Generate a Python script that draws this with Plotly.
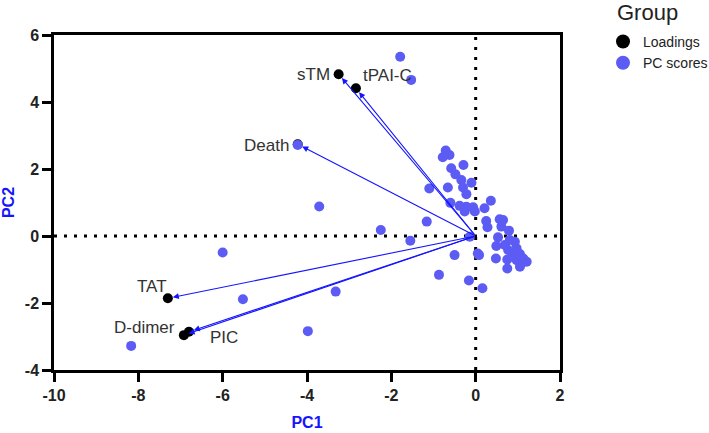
import plotly.graph_objects as go

# Loadings
load_names = ["sTM", "tPAI-C", "Death", "TAT", "D-dimer", "PIC"]
load_x = [-3.25, -2.84, -4.22, -7.30, -6.92, -6.80]
load_y = [4.83, 4.41, 2.74, -1.86, -2.96, -2.86]

# PC scores
score_x = [-1.79, -1.53, -3.71, -6.00, -5.52, -3.32, -3.98, -8.17, -2.25, -1.55, -4.22,
           -0.71, -0.62, -0.78, -0.29, -0.58, -0.48, -0.34, -0.10, -1.10, -0.66, -0.30,
           -0.22, 0.36, -0.60, -0.38, -0.22, -0.06, -0.26, -0.02, 0.21, -1.16, 0.25,
           0.57, 0.65, 0.28, 0.61, 0.79, -0.14, 0.53, 0.81, 0.93, 0.49, 0.69, 0.97,
           0.77, 0.89, 1.05, 1.13, 0.97, 1.09, 0.75, 0.48, 0.08, -0.50, 0.75, 1.05,
           -0.87, -0.16, 0.16, 1.21, 0.05]
score_y = [5.35, 4.66, 0.88, -0.49, -1.89, -1.66, -2.84, -3.28, 0.18, -0.14, 2.72,
           2.55, 2.42, 2.35, 2.12, 2.02, 1.84, 1.67, 1.59, 1.42, 1.45, 1.45,
           1.25, 1.05, 0.99, 0.90, 0.87, 0.86, 0.73, 0.73, 0.83, 0.43, 0.45,
           0.50, 0.48, 0.26, 0.28, 0.16, -0.02, -0.04, -0.12, -0.17, -0.30, -0.27, -0.37,
           -0.42, -0.52, -0.54, -0.67, -0.72, -0.81, -0.70, -0.67, -0.57, -0.57, -0.97, -0.92,
           -1.16, -1.33, -1.56, -0.77, -0.52]

x_ticks = [-10, -8, -6, -4, -2, 0, 2]
y_ticks = [-4, -2, 0, 2, 4, 6]

FONT = "Arial, Liberation Sans, sans-serif"
BLUE_PTS = "#5c5cf5"
ARROW_BLUE = "#1414ff"

fig = go.Figure()
fig.add_trace(go.Scatter(x=load_x, y=load_y, mode="markers", name="Loadings",
                         showlegend=False, marker=dict(color="black", size=10)))
fig.add_trace(go.Scatter(x=score_x, y=score_y, mode="markers", name="PC scores",
                         showlegend=False, marker=dict(color=BLUE_PTS, size=10)))
# legend entries (larger symbols like the reference)
fig.add_trace(go.Scatter(x=[None], y=[None], mode="markers", name="Loadings",
                         marker=dict(color="black", size=14)))
fig.add_trace(go.Scatter(x=[None], y=[None], mode="markers", name="PC scores",
                         marker=dict(color=BLUE_PTS, size=14)))

# zero lines
fig.add_shape(type="line", x0=0, x1=0, y0=-4, y1=6, xref="x", yref="y", layer="below",
              line=dict(color="black", width=3, dash="3px,7px"))
fig.add_shape(type="line", x0=-10, x1=2, y0=0, y1=0, xref="x", yref="y", layer="below",
              line=dict(color="black", width=3, dash="3px,7px"))

# arrows
for x, y in zip(load_x, load_y):
    fig.add_annotation(x=x, y=y, ax=0, ay=0, xref="x", yref="y", axref="x", ayref="y",
                       text="", showarrow=True, arrowhead=2, arrowsize=1.1,
                       arrowwidth=1.1, arrowcolor=ARROW_BLUE, standoff=5)

# labels
label_pos = {
    "sTM": dict(xanchor="right", xshift=-7, yshift=0),
    "tPAI-C": dict(xanchor="left", xshift=5, yshift=13),
    "Death": dict(xanchor="right", xshift=-7, yshift=-1),
    "TAT": dict(xanchor="right", xshift=1, yshift=12),
    "D-dimer": dict(xanchor="right", xshift=-7, yshift=8),
    "PIC": dict(xanchor="left", xshift=19, yshift=-6),
}
for n, x, y in zip(load_names, load_x, load_y):
    p = label_pos[n]
    fig.add_annotation(x=x, y=y, xref="x", yref="y", text=n, showarrow=False,
                       xanchor=p["xanchor"], yanchor="middle", xshift=p["xshift"],
                       yshift=p["yshift"], font=dict(family=FONT, size=17, color="#333333"))

# legend title as text
fig.add_annotation(x=1.109, y=1.066, xref="paper", yref="paper", text="Group",
                   showarrow=False, xanchor="left", yanchor="middle",
                   font=dict(family=FONT, size=22, color="#222222"))

axis_common = dict(showgrid=False, zeroline=False, showline=True, linecolor="black",
                   linewidth=2.5, mirror=True, ticks="outside", ticklen=9, tickwidth=2.5,
                   tickcolor="black", automargin=False,
                   tickfont=dict(family=FONT, size=16, color="#222222", weight="bold"))

fig.update_layout(
    width=709, height=433,
    margin=dict(l=54, r=149, t=35, b=63, autoexpand=False),
    plot_bgcolor="white", paper_bgcolor="white",
    font=dict(family=FONT),
    xaxis=dict(range=[-10, 2], tickvals=x_ticks, ticktext=[str(v) for v in x_ticks],
               title=dict(text="PC1", font=dict(family=FONT, size=16, color=ARROW_BLUE, weight="bold"),
                          standoff=14),
               **axis_common),
    yaxis=dict(range=[-4, 6], tickvals=y_ticks, ticktext=[str(v) for v in y_ticks],
               title=dict(text="PC2", font=dict(family=FONT, size=16, color=ARROW_BLUE, weight="bold"),
                          standoff=8),
               **axis_common),
    legend=dict(x=1.085, y=1.027, xanchor="left", yanchor="top",
                font=dict(family=FONT, size=14, color="#222222"),
                itemsizing="trace", tracegroupgap=0),
    showlegend=True,
)

# remove the default page margin so the 709x433 figure sits at the window origin
fig.write_html("out.html", config={"displayModeBar": False},
               post_script="document.body.style.margin='0px';")
